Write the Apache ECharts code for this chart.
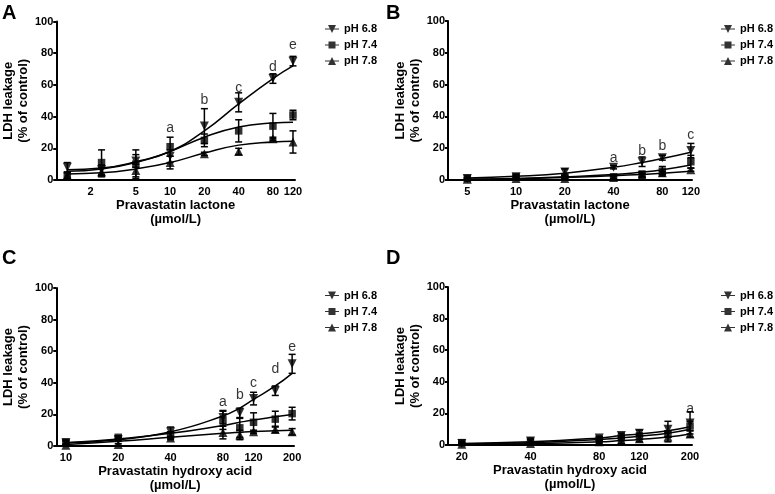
<!DOCTYPE html>
<html>
<head>
<meta charset="utf-8">
<script src="https://cdn.jsdelivr.net/npm/echarts@6/dist/echarts.min.js"></script>
<style>html,body{margin:0;padding:0;background:#fff}#c{width:775px;height:494px}</style>
</head>
<body>
<div id="c"></div>
<script>
// ---------- DATA ----------
const seriesNames = ['pH 6.8', 'pH 7.4', 'pH 7.8'];
const panelLetters = ['A', 'B', 'C', 'D'];
const xTitles = ['Pravastatin lactone\n(µmol/L)', 'Pravastatin lactone\n(µmol/L)', 'Pravastatin hydroxy acid\n(µmol/L)', 'Pravastatin hydroxy acid\n(µmol/L)'];
const yTitle = 'LDH leakage\n(% of control)';

// Panel A
const concA = [1.25, 2.5, 5, 10, 20, 40, 80, 120];
const ticksA = [2, 5, 10, 20, 40, 80, 120];
const rangeA = [1, 125];
const A68 = [8, 6.5, 12, 15, 34, 49, 64, 75];
const A68err = [3, 3, 4, 4, 11, 6, 3, 3];
const A74 = [2.5, 11, 10, 21, 25, 31, 34, 41];
const A74err = [2, 8, 9, 6, 4, 7, 8, 3];
const A78 = [3, 5, 6, 11, 16.5, 18, 26, 24];
const A78err = [2, 3, 4, 4, 1, 2, 1, 7];
const A68fit = [6.5, 7.5, 11.5, 18, 31, 48, 64, 72];
const A74fit = [5.5, 7, 11, 18, 27, 33.5, 36, 36.5];
const A78fit = [3.8, 4.5, 7, 11, 17, 22, 24, 24.5];
const annA = [[10, 33, 'a'], [20, 50.5, 'b'], [40, 58, 'c'], [80, 71.5, 'd'], [120, 85, 'e']];

// Panel B
const concB = [5, 10, 20, 40, 60, 80, 120];
const ticksB = [5, 10, 20, 40, 80, 120];
const rangeB = [3.8, 122];
const B68 = [1, 2, 5, 8, 11.5, 14, 18.5];
const B68err = [0.5, 1, 2, 1, 3, 1.5, 4.5];
const B74 = [1, 2, 2, 2, 3.5, 5.5, 11.5];
const B74err = [0.5, 1, 1, 1, 2, 3, 4];
const B78 = [0.5, 1, 1, 1.5, 3, 4.5, 6.5];
const B78err = [0.3, 0.5, 0.5, 1, 1, 1, 1];
const B68fit = [1.2, 2.3, 4.3, 8, 11, 13.5, 17.5];
const B74fit = [0.5, 1, 2, 3.5, 5, 6.5, 9.5];
const B78fit = [0.4, 0.8, 1.5, 2.7, 3.5, 4.2, 5.5];
const annB = [[40, 13.6, 'a'], [60, 18.4, 'b'], [80, 21.4, 'b'], [120, 28, 'c']];

// Panel C
const concC = [10, 20, 40, 80, 100, 120, 160, 200];
const ticksC = [10, 20, 40, 80, 120, 200];
const rangeC = [8.8, 205];
const C68 = [2, 4, 9, 18, 21, 30, 35, 52];
const C68err = [1, 1, 3, 4, 3, 4, 3, 6];
const C74 = [2.5, 5.5, 7, 16.5, 11.5, 15, 17, 20.5];
const C74err = [1, 1, 2, 6, 6, 6, 5, 4];
const C78 = [0.5, 1, 5, 8.5, 7, 9, 10.5, 9];
const C78err = [0.5, 0.5, 1, 4, 3, 1, 2, 2];
const C68fit = [2, 4, 9, 19, 24, 29.5, 38, 46];
const C74fit = [2, 4.5, 8, 13, 15, 16.5, 18.5, 20];
const C78fit = [1, 3, 5.5, 8, 8.7, 9.2, 9.7, 10];
const annC = [[80, 28, 'a'], [100, 32, 'b'], [120, 40, 'c'], [160, 48.5, 'd'], [200, 62.7, 'e']];

// Panel D
const concD = [20, 40, 80, 100, 120, 160, 200];
const ticksD = [20, 40, 80, 120, 200];
const rangeD = [17.4, 204];
const D68 = [1, 2.5, 4.5, 6, 7.5, 10, 14];
const D68err = [0.5, 1, 1, 1.5, 2, 5, 7];
const D74 = [1.5, 2.5, 3.5, 4.5, 5.5, 7, 12];
const D74err = [0.5, 1, 1, 1.5, 2, 2, 3];
const D78 = [0.5, 1, 2, 3, 4, 5, 7];
const D78err = [0.3, 0.5, 1, 2, 2, 3, 2];
const D68fit = [1, 2, 4.5, 6, 7, 9, 11.5];
const D74fit = [0.7, 1.5, 3.5, 4.5, 5.5, 7.5, 10];
const D78fit = [0.3, 0.8, 2, 2.8, 3.5, 5, 7];
const annD = [[200, 23, 'a']];

// ---------- BUILD ----------
const panels = [
  {conc: concA, ticks: ticksA, range: rangeA, vals: [A68, A74, A78], errs: [A68err, A74err, A78err], fits: [A68fit, A74fit, A78fit], ann: annA},
  {conc: concB, ticks: ticksB, range: rangeB, vals: [B68, B74, B78], errs: [B68err, B74err, B78err], fits: [B68fit, B74fit, B78fit], ann: annB},
  {conc: concC, ticks: ticksC, range: rangeC, vals: [C68, C74, C78], errs: [C68err, C74err, C78err], fits: [C68fit, C74fit, C78fit], ann: annC},
  {conc: concD, ticks: ticksD, range: rangeD, vals: [D68, D74, D78], errs: [D68err, D74err, D78err], fits: [D68fit, D74fit, D78fit], ann: annD}
];

const FONT = '"Liberation Sans", Arial, sans-serif';
const lg = Math.log10;
const grids = [
  {left: 52, top: 21.5, width: 243, height: 158.5},
  {left: 448, top: 21, width: 244, height: 159},
  {left: 52, top: 288, width: 242, height: 158},
  {left: 448, top: 287, width: 244, height: 158}
];
const legendPos = [
  {left: 325, top: 23.5},
  {left: 721, top: 23.5},
  {left: 325, top: 290},
  {left: 721, top: 290}
];
const letterPos = [[2, 13.5], [386, 13.5], [2, 258.5], [386, 258.5]];

const symbols = [
  {symbol: 'triangle', rotate: 180, size: 9},
  {symbol: 'rect', rotate: 0, size: 7.5},
  {symbol: 'triangle', rotate: 0, size: 9}
];
const legendIcons = [
  'path://M0,4.5H14V5.5H0Z M3,1H11L7,9Z',
  'path://M0,4.5H14V5.5H0Z M3.5,1.5H10.5V8.5H3.5Z',
  'path://M0,4.5H14V5.5H0Z M7,1L11,9H3Z'
];

const xAxes = [], yAxes = [], legends = [], series = [], graphics = [];

panels.forEach((p, i) => {
  xAxes.push({
    gridIndex: i, type: 'value',
    min: lg(p.range[0]), max: lg(p.range[1]),
    axisLine: {show: true, onZero: false, lineStyle: {color: '#000', width: 2}},
    axisTick: {show: false},
    splitLine: {show: false},
    axisLabel: {
      customValues: p.ticks.map(lg),
      formatter: v => String(Math.round(Math.pow(10, v))),
      color: '#000', fontWeight: 'bold', fontSize: 11, fontFamily: FONT, margin: 6
    },
    name: xTitles[i], nameLocation: 'middle', nameGap: 18,
    nameTextStyle: {color: '#000', fontWeight: 'bold', fontSize: 13, fontFamily: FONT, lineHeight: 14}
  });
  yAxes.push({
    gridIndex: i, type: 'value', min: 0, max: 100, interval: 20,
    axisLine: {show: true, lineStyle: {color: '#000', width: 2}},
    axisTick: {show: true, length: 3, lineStyle: {color: '#000', width: 2}},
    splitLine: {show: false},
    axisLabel: {color: '#000', fontWeight: 'bold', fontSize: 11, fontFamily: FONT, margin: 3},
    name: yTitle, nameLocation: 'middle', nameGap: 24, nameRotate: 90,
    nameTextStyle: {color: '#000', fontWeight: 'bold', fontSize: 13, fontFamily: FONT, lineHeight: 15}
  });
  legends.push({
    orient: 'vertical', left: legendPos[i].left, top: legendPos[i].top,
    itemWidth: 14, itemHeight: 10, itemGap: 5, padding: 0,
    selectedMode: false,
    textStyle: {color: '#000', fontWeight: 'bold', fontSize: 11, fontFamily: FONT},
    data: seriesNames.map((n, k) => ({name: n, icon: legendIcons[k], itemStyle: {color: '#000'}}))
  });
  graphics.push({
    type: 'text', left: letterPos[i][0], top: letterPos[i][1] - 10,
    style: {text: panelLetters[i], fill: '#000', font: 'bold 20px ' + FONT}
  });

  for (let k = 0; k < 3; k++) {
    // fitted curve
    series.push({
      type: 'line', xAxisIndex: i, yAxisIndex: i, smooth: true, symbol: 'none',
      lineStyle: {color: '#000', width: 1.5}, z: 3, silent: true,
      data: p.conc.map((c, j) => [lg(c), p.fits[k][j]])
    });
    // error bars
    series.push({
      type: 'custom', xAxisIndex: i, yAxisIndex: i, z: 4, silent: true,
      data: p.conc.map((c, j) => [lg(c), Math.max(0, p.vals[k][j] - p.errs[k][j]), p.vals[k][j] + p.errs[k][j]]),
      renderItem: (params, api) => {
        const x = api.value(0);
        const a = api.coord([x, api.value(1)]);
        const b = api.coord([x, api.value(2)]);
        const w = 3.5;
        const st = {stroke: '#000', lineWidth: 1.5};
        return {type: 'group', children: [
          {type: 'line', shape: {x1: a[0], y1: a[1], x2: b[0], y2: b[1]}, style: st},
          {type: 'line', shape: {x1: b[0] - w, y1: b[1], x2: b[0] + w, y2: b[1]}, style: st},
          {type: 'line', shape: {x1: a[0] - w, y1: a[1], x2: a[0] + w, y2: a[1]}, style: st}
        ]};
      }
    });
    // markers
    series.push({
      type: 'scatter', name: seriesNames[k], xAxisIndex: i, yAxisIndex: i, z: 5,
      symbol: symbols[k].symbol, symbolRotate: symbols[k].rotate, symbolSize: symbols[k].size,
      itemStyle: {color: '#000'},
      data: p.conc.map((c, j) => [lg(c), p.vals[k][j]])
    });
  }
  // significance letters
  series.push({
    type: 'scatter', xAxisIndex: i, yAxisIndex: i, z: 6, silent: true,
    symbol: 'circle', symbolSize: 1, itemStyle: {color: 'rgba(0,0,0,0)'},
    label: {show: true, position: 'inside', formatter: q => q.value[2], color: '#000', fontSize: 14, fontFamily: FONT},
    data: p.ann.map(a => [lg(a[0]), a[1], a[2]])
  });
});

const chart = echarts.init(document.getElementById('c'), null, {renderer: 'canvas'});
chart.setOption({
  animation: false,
  backgroundColor: '#fff',
  textStyle: {fontFamily: FONT},
  grid: grids,
  xAxis: xAxes,
  yAxis: yAxes,
  legend: legends,
  graphic: graphics,
  series: series
});
</script>
</body>
</html>
